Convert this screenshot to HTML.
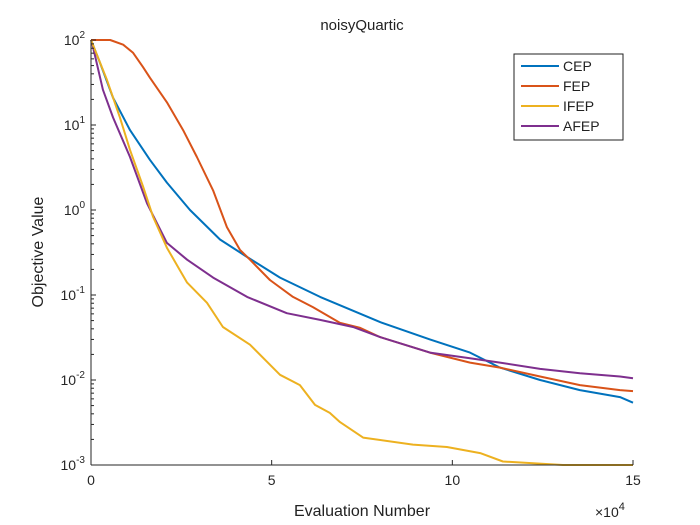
<!DOCTYPE html>
<html><head><meta charset="utf-8"><style>
body{margin:0;background:#fff;}
svg{display:block;font-family:"Liberation Sans",Arial,sans-serif;}
</style></head><body>
<svg id="chart" width="700" height="525" viewBox="0 0 700 525" xmlns="http://www.w3.org/2000/svg">
<rect width="700" height="525" fill="#fff"/>
<text x="362" y="30" font-size="15" text-anchor="middle" fill="#222">noisyQuartic</text>
<g id="plot"></g>
<g id="axes"></g>
<text x="362" y="516" font-size="16" text-anchor="middle" fill="#222">Evaluation Number</text>
<text transform="translate(43,252) rotate(-90)" font-size="16" text-anchor="middle" fill="#222">Objective Value</text>
<text x="595" y="517" font-size="14" fill="#222">×10<tspan dy="-7" font-size="11">4</tspan></text>
<g>
<rect x="514" y="54" width="109" height="86" fill="#fff" stroke="#222" stroke-width="1"/>
<line x1="521" y1="66" x2="559" y2="66" stroke="#0072BD" stroke-width="2"/>
<text x="563" y="71" font-size="14" fill="#222">CEP</text>
<line x1="521" y1="86" x2="559" y2="86" stroke="#D95319" stroke-width="2"/>
<text x="563" y="91" font-size="14" fill="#222">FEP</text>
<line x1="521" y1="106" x2="559" y2="106" stroke="#EDB120" stroke-width="2"/>
<text x="563" y="111" font-size="14" fill="#222">IFEP</text>
<line x1="521" y1="126" x2="559" y2="126" stroke="#7E2F8E" stroke-width="2"/>
<text x="563" y="131" font-size="14" fill="#222">AFEP</text>
</g>
</svg>
<script>
const xTicks=[0,5,10,15];
const xTickLabels=["0","5","10","15"];
const yTicks=[-3,-2,-1,0,1,2];
const cepX=[0,0.25,0.61,1.08,1.63,2.10,2.74,3.57,4.32,5.23,6.34,8.0,9.38,10.49,11.32,12.43,13.53,14.64,15];
const cepY=[100,54,21,8.7,3.9,2.1,1.0,0.45,0.28,0.16,0.095,0.048,0.030,0.021,0.014,0.010,0.0076,0.0063,0.0054];
const fepX=[0,0.53,0.89,1.16,1.44,1.63,2.10,2.55,2.93,3.38,3.76,4.12,4.40,4.95,5.59,6.14,6.89,7.45,8.0,9.38,10.49,11.32,12.43,13.53,14.64,15];
const fepY=[100,100,88,71,48,36,18.5,8.7,4.2,1.7,0.63,0.34,0.26,0.15,0.095,0.072,0.047,0.041,0.032,0.021,0.016,0.014,0.011,0.0087,0.0076,0.0074];
const ifepX=[0,0.44,0.80,1.08,1.44,1.72,2.10,2.46,2.66,3.21,3.65,4.40,5.23,5.78,6.20,6.61,6.89,7.53,8.91,9.85,10.77,11.40,13.06,15];
const ifepY=[100,34,12.3,5.1,1.9,0.83,0.36,0.195,0.14,0.081,0.042,0.026,0.0115,0.0087,0.0051,0.0041,0.0032,0.0021,0.00174,0.00163,0.00138,0.0011,0.001,0.001];
const afepX=[0,0.03,0.33,0.61,1.08,1.55,2.10,2.66,3.38,4.32,5.42,6.34,7.25,8.0,9.38,10.49,11.32,12.43,13.53,14.64,15];
const afepY=[100,92,26,12.3,4.2,1.2,0.41,0.26,0.16,0.095,0.061,0.051,0.042,0.032,0.021,0.018,0.016,0.0135,0.012,0.011,0.0105];

const L=91,R=633,T=40,B=465;
const sx=v=>L+(v-0)/(15-0)*(R-L);
const sy=v=>T+(2-Math.log10(v))/5*(B-T);
const NS="http://www.w3.org/2000/svg";
const plot=document.getElementById('plot'),axes=document.getElementById('axes');
function mk(tag,attrs,parent){const e=document.createElementNS(NS,tag);for(const k in attrs)e.setAttribute(k,attrs[k]);parent.appendChild(e);return e;}
function series(xs,ys,color,name){
  const pts=xs.map((x,i)=>sx(x).toFixed(1)+','+sy(ys[i]).toFixed(1)).join(' ');
  const p=mk('polyline',{points:pts,fill:'none',stroke:color,'stroke-width':2,'stroke-linejoin':'round'},plot);
  
  
}
series(cepX,cepY,'#0072BD','line-cep');
series(fepX,fepY,'#D95319','line-fep');
series(afepX,afepY,'#7E2F8E','line-afep');
series(ifepX,ifepY,'#EDB120','line-ifep');
// axes lines
const xa=mk('line',{x1:L,y1:B,x2:R,y2:B,stroke:'#262626','stroke-width':1},axes);


const ya=mk('line',{x1:L,y1:T,x2:L,y2:B,stroke:'#262626','stroke-width':1},axes);


xTicks.forEach((t,i)=>{
  const x=sx(t);
  mk('line',{x1:x,y1:B,x2:x,y2:B-5,stroke:'#262626'},axes);
  const tx=mk('text',{x:x,y:B+20,'font-size':14,'text-anchor':'middle',fill:'#262626'},axes);
  tx.textContent=xTickLabels[i];
  
  
});
yTicks.forEach(e=>{
  const y=sy(Math.pow(10,e));
  mk('line',{x1:L,y1:y,x2:L+5,y2:y,stroke:'#262626'},axes);
  const tx=mk('text',{x:L-6,y:y+5,'font-size':14,'text-anchor':'end',fill:'#262626'},axes);
  
  
  tx.textContent='10';
  const s=mk('tspan',{dy:-7,'font-size':10},tx);s.textContent=String(e);
  // reposition so exponent sits right
  if(e<2){for(let m=2;m<10;m++){const ym=sy(m*Math.pow(10,e));mk('line',{x1:L,y1:ym,x2:L+3,y2:ym,stroke:'#262626'},axes);}}
});
</script>
</body></html>
